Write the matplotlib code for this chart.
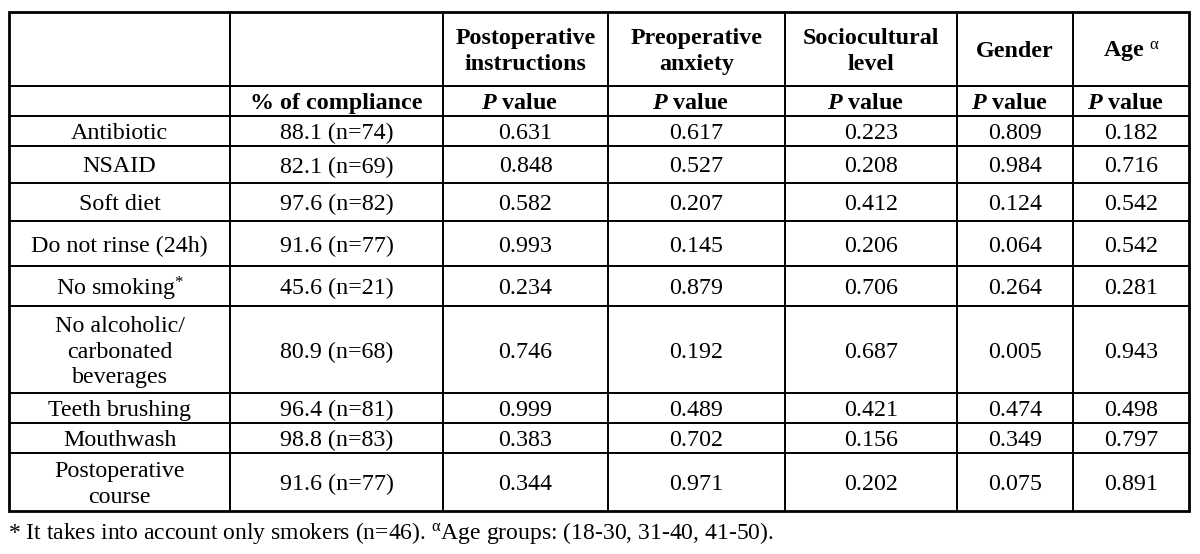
import matplotlib.pyplot as plt

plt.rcParams['font.family'] = ['Liberation Serif', 'DejaVu Serif']
plt.rcParams['mathtext.fontset'] = 'custom'
plt.rcParams['mathtext.rm'] = 'Liberation Serif'
plt.rcParams['mathtext.it'] = 'Liberation Serif'
plt.rcParams['mathtext.bf'] = 'Liberation Serif:bold'
plt.rcParams['mathtext.bfit'] = 'Liberation Serif:italic:bold'

# table data
factors = ['Postoperative\ninstructions', 'Preoperative\nanxiety',
           'Sociocultural\nlevel', 'Gender', 'Age $^{\\alpha}$']
items = ['Antibiotic', 'NSAID', 'Soft diet', 'Do not rinse (24h)',
         'No smoking$^{*}$', 'No alcoholic/\ncarbonated\nbeverages',
         'Teeth brushing', 'Mouthwash', 'Postoperative\ncourse']
compliance_pct = [88.1, 82.1, 97.6, 91.6, 45.6, 80.9, 96.4, 98.8, 91.6]
compliance_n = [74, 69, 82, 77, 21, 68, 81, 83, 77]
p_instructions = [0.631, 0.848, 0.582, 0.993, 0.234, 0.746, 0.999, 0.383, 0.344]
p_anxiety = [0.617, 0.527, 0.207, 0.145, 0.879, 0.192, 0.489, 0.702, 0.971]
p_sociocultural = [0.223, 0.208, 0.412, 0.206, 0.706, 0.687, 0.421, 0.156, 0.202]
p_gender = [0.809, 0.984, 0.124, 0.064, 0.264, 0.005, 0.474, 0.349, 0.075]
p_age = [0.182, 0.716, 0.542, 0.542, 0.281, 0.943, 0.498, 0.797, 0.891]
footnote = ('* It takes into account only smokers (n=46). '
            '$^{\\alpha}$Age groups: (18-30, 31-40, 41-50).')

p_columns = [p_instructions, p_anxiety, p_sociocultural, p_gender, p_age]

# grid in pixel coordinates
col_x = [9, 230, 443, 608, 785, 957, 1073, 1189]
row_y = [12, 86, 116, 146, 183, 221, 266, 306, 393, 423, 453, 511]

fig = plt.figure(figsize=(12, 5.54), dpi=100)
ax = fig.add_axes([0, 0, 1, 1])
ax.set_xlim(0, 1200)
ax.set_ylim(554, 0)
ax.axis('off')

ax.hlines(row_y[1:-1], col_x[0], col_x[-1], color='black', lw=1.4)
ax.vlines(col_x[1:-1], row_y[0], row_y[-1], color='black', lw=1.4)
ax.add_patch(plt.Rectangle((col_x[0], row_y[0]), col_x[-1] - col_x[0],
                           row_y[-1] - row_y[0], fill=False, lw=2.0,
                           edgecolor='black'))

fs = 17.3
dy = 2.5   # nudge text down so caps sit at the cell middle
cx = [(col_x[i] + col_x[i + 1]) / 2 for i in range(len(col_x) - 1)]

# header rows
for j, f in enumerate(factors):
    ax.text(cx[j + 2], (row_y[0] + row_y[1]) / 2 + dy, f, ha='center',
            va='center', fontsize=fs, fontweight='bold', linespacing=1.3)
y2 = (row_y[1] + row_y[2]) / 2 + dy
ax.text(cx[1], y2, '% of compliance', ha='center', va='center',
        fontsize=fs, fontweight='bold')
for j in range(len(factors)):
    ax.text(cx[j + 2] - 6, y2, '$\\mathbfit{P}$ value', ha='center',
            va='center', fontsize=fs, fontweight='bold')

# body rows
for i, name in enumerate(items):
    yc = (row_y[i + 2] + row_y[i + 3]) / 2 + dy
    ax.text(cx[0], yc, name, ha='center', va='center', fontsize=fs,
            linespacing=1.3)
    ax.text(cx[1], yc, f'{compliance_pct[i]:.1f} (n={compliance_n[i]})',
            ha='center', va='center', fontsize=fs)
    for j, col in enumerate(p_columns):
        ax.text(cx[j + 2], yc, f'{col[i]:.3f}', ha='center', va='center',
                fontsize=fs)

ax.text(8, 533, footnote, ha='left', va='center', fontsize=17)

fig.savefig('out.png', dpi=100)
